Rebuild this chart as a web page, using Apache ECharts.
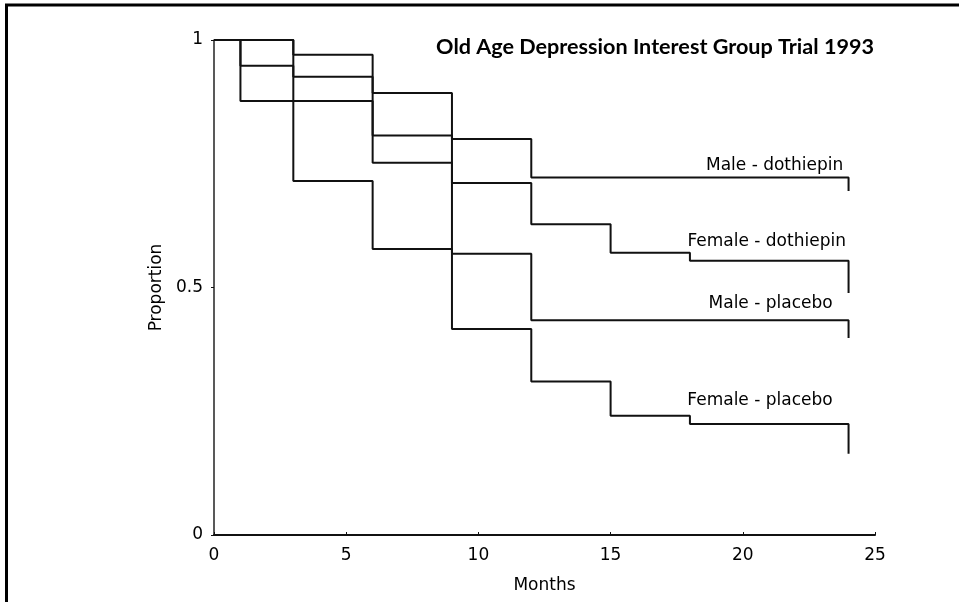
<!DOCTYPE html>
<html>
<head>
<meta charset="utf-8">
<script src="https://cdn.jsdelivr.net/npm/echarts@6/dist/echarts.min.js"></script>
<style>
html,body{margin:0;padding:0;background:#fff;}
#chart{width:959px;height:602px;}
</style>
</head>
<body>
<div id="chart"></div>
<script>
// Kaplan-Meier step data: [month, proportion] at each change point
const maleDothiepin   = [[0,1],[3,0.970],[6,0.893],[9,0.800],[12,0.722],[24,0.695]];
const femaleDothiepin = [[0,1],[1,0.948],[3,0.926],[6,0.807],[9,0.711],[12,0.628],[15,0.570],[18,0.554],[24,0.489]];
const malePlacebo     = [[0,1],[1,0.877],[6,0.752],[9,0.568],[12,0.434],[24,0.398]];
const femalePlacebo   = [[0,1],[3,0.715],[6,0.578],[9,0.416],[12,0.310],[15,0.241],[18,0.224],[24,0.164]];

const seriesNames = ['Male - dothiepin','Female - dothiepin','Male - placebo','Female - placebo'];
const xTicks = [0,5,10,15,20,25];
const yTicks = [0,0.5,1];
const titleText = 'Old Age Depression Interest Group Trial 1993';

const allData = [maleDothiepin, femaleDothiepin, malePlacebo, femalePlacebo];
// label anchor (data coords, right end of text)
const labelAnchors = [[23.8,0.747],[23.9,0.592],[23.4,0.467],[23.4,0.271]];

const chart = echarts.init(document.getElementById('chart'), null, {renderer:'canvas'});
const font = '"DejaVu Sans", Verdana, sans-serif';

const series = allData.map((d,i)=>({
  type:'line', name:seriesNames[i], data:d, step:'end', symbol:'none',
  lineStyle:{color:'#111', width:2}, animation:false, z:3
}));
series.push({
  type:'scatter', data:labelAnchors.map((p,i)=>({value:p, name:seriesNames[i]})),
  symbolSize:0, animation:false, silent:true, itemStyle:{opacity:1, color:'#000'},
  label:{show:true, position:'left', distance:0, formatter:p=>p.name, opacity:1,
    fontFamily:font, fontSize:17, color:'#000', align:'right'}
});

chart.setOption({
  backgroundColor:'#fff',
  animation:false,
  grid:{left:214, right:84, top:40, bottom:67},
  title:{text:titleText, right:80, top:31,
    textStyle:{fontFamily:'Lato, "Liberation Sans", sans-serif', fontWeight:'bold', fontSize:21.6, color:'#000'}},
  xAxis:{type:'value', min:0, max:25, interval:5, name:'Months', nameLocation:'middle', nameGap:42,
    nameTextStyle:{fontFamily:font, fontSize:17, color:'#000'},
    axisLine:{lineStyle:{color:'#111', width:2}},
    axisTick:{show:true, inside:true, length:3, lineStyle:{color:'#111'}},
    axisLabel:{fontFamily:font, fontSize:17, color:'#000', margin:12,
      formatter:v=>xTicks.includes(v)?String(v):''},
    splitLine:{show:false}},
  yAxis:{type:'value', min:0, max:1, interval:0.5, name:'Proportion', nameLocation:'middle', nameGap:48,
    nameRotate:90,
    nameTextStyle:{fontFamily:font, fontSize:17, color:'#000'},
    axisLine:{show:true, lineStyle:{color:'#222', width:1.5}},
    axisTick:{show:true, length:3, lineStyle:{color:'#111'}},
    axisLabel:{fontFamily:font, fontSize:17, color:'#000', margin:11,
      formatter:v=>yTicks.includes(v)?String(v):''},
    splitLine:{show:false}},
  graphic:[{type:'rect', shape:{x:6.5, y:5, width:1200, height:900}, silent:true,
    style:{fill:'none', stroke:'#000', lineWidth:3}, z:100}],
  series:series
});
</script>
</body>
</html>
